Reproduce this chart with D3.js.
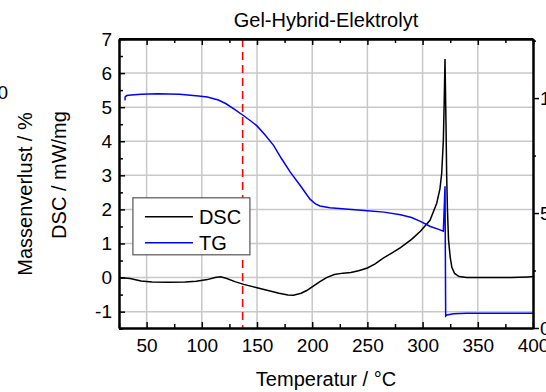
<!DOCTYPE html>
<html lang="de">
<head>
<meta charset="UTF-8">
<title>Gel-Hybrid-Elektrolyt</title>
<script src="https://d3js.org/d3.v7.min.js"></script>
<style>
  body { margin: 0; background: #fff; }
  svg text { font-family: "Liberation Sans", Arial, sans-serif; fill: #000; }
  .grid line { stroke: #c8c8c8; stroke-width: 1.5; }
  .axis path, .axis line { stroke: #000; }
  .axis path { stroke-width: 2; }
  .axis line { stroke-width: 1.5; }
</style>
</head>
<body>
<div id="chart"></div>
<script>
// Temperatur (°C) und DSC-Werte (mW/mg)
const dscTemp = [25, 35, 45, 55, 70, 85, 95, 105, 112, 117, 122, 130, 138, 150, 160, 170, 178, 183, 190, 195, 200, 207, 213, 220, 228, 235, 242, 250, 257, 264, 272, 280, 290, 298, 306.7, 312.8, 315.7, 317.3, 318.8, 319.6, 320.3, 321.2, 321.8, 322.5, 323.5, 325, 326.5, 329, 333, 340, 360, 380, 395, 400];
const dscVal  = [0.0, -0.03, -0.1, -0.13, -0.14, -0.13, -0.11, -0.06, 0.0, 0.02, -0.02, -0.12, -0.2, -0.3, -0.38, -0.46, -0.51, -0.52, -0.46, -0.38, -0.27, -0.12, 0.0, 0.09, 0.13, 0.15, 0.2, 0.28, 0.4, 0.56, 0.72, 0.88, 1.12, 1.36, 1.68, 2.18, 2.6, 3.06, 4.03, 5.2, 6.41, 4.5, 3.0, 2.0, 1.1, 0.6, 0.3, 0.12, 0.03, 0.0, 0.0, 0.0, 0.02, 0.03];

const tgTemp = [30.4, 30.6, 32, 36, 45, 60, 80, 97, 105, 115, 122, 130, 137, 145, 150, 157, 165, 172, 180, 189, 198, 203, 207, 216, 230, 250, 265, 280, 290, 298, 307, 314, 318.8, 320.3, 320.9, 322, 328, 340, 400];
const tgVal  = [5.2, 5.3, 5.34, 5.36, 5.38, 5.39, 5.38, 5.33, 5.3, 5.21, 5.1, 4.93, 4.77, 4.58, 4.45, 4.2, 3.88, 3.5, 3.1, 2.71, 2.3, 2.16, 2.1, 2.05, 2.01, 1.96, 1.92, 1.84, 1.76, 1.65, 1.5, 1.42, 1.36, 2.68, -1.13, -1.1, -1.06, -1.05, -1.05];

const xTicks = [50, 100, 150, 200, 250, 300, 350, 400];
const xMinor = [25, 75, 125, 175, 225, 275, 325, 375];
const yTicks = [-1, 0, 1, 2, 3, 4, 5, 6, 7];
const yMinor = [-1.5, -0.5, 0.5, 1.5, 2.5, 3.5, 4.5, 5.5, 6.5];
const rTicks = [0, 5, 10];
const rMinor = [2.5, 7.5, 12.5];
const markerTemp = 137;

const W = 546, H = 392;
const m = { left: 119, right: 13, top: 39, bottom: 64 };
const iw = W - m.left - m.right, ih = H - m.top - m.bottom;

const x = d3.scaleLinear().domain([25, 400]).range([0, iw]);
const y = d3.scaleLinear().domain([-1.48, 7]).range([ih, 0]);
const yr = d3.scaleLinear().domain([0, 12.57]).range([ih, 0]);

const svg = d3.select('#chart').append('svg')
  .attr('width', W).attr('height', H);

const g = svg.append('g').attr('transform', `translate(${m.left},${m.top})`);

// Gitter
g.append('g').attr('class', 'grid')
  .selectAll('line').data(xTicks.filter(d => d < 400)).enter().append('line')
  .attr('x1', d => x(d)).attr('x2', d => x(d)).attr('y1', 0).attr('y2', ih);
g.append('g').attr('class', 'grid')
  .selectAll('line').data(yTicks.filter(d => d < 7)).enter().append('line')
  .attr('y1', d => y(d)).attr('y2', d => y(d)).attr('x1', 0).attr('x2', iw);

// Marker-Linie
g.append('line')
  .attr('x1', x(markerTemp)).attr('x2', x(markerTemp))
  .attr('y1', 0).attr('y2', ih)
  .attr('stroke', '#ff0000').attr('stroke-width', 1.6)
  .attr('stroke-dasharray', '8,5');

g.append('clipPath').attr('id', 'clip')
  .append('rect').attr('width', iw).attr('height', ih);

const line = d3.line().x(d => x(d[0])).y(d => y(d[1]));
g.append('path')
  .datum(dscTemp.map((t, i) => [t, dscVal[i]]))
  .attr('clip-path', 'url(#clip)')
  .attr('fill', 'none').attr('stroke', '#000').attr('stroke-width', 1.5)
  .attr('d', line);
g.append('path')
  .datum(tgTemp.map((t, i) => [t, tgVal[i]]))
  .attr('clip-path', 'url(#clip)')
  .attr('fill', 'none').attr('stroke', '#0000ff').attr('stroke-width', 1.5)
  .attr('d', line);

const fs = '19px';
const plain = d => String(d);

// Achsen
const bottom = g.append('g').attr('class', 'axis').attr('transform', `translate(0,${ih})`)
  .call(d3.axisBottom(x).tickValues(xTicks).tickFormat(plain).tickSizeInner(-6).tickSizeOuter(0).tickPadding(11));
bottom.selectAll('text').style('font-size', fs);
g.append('g').attr('class', 'axis').attr('transform', `translate(0,${ih})`)
  .call(d3.axisBottom(x).tickValues(xMinor).tickSizeInner(-4).tickSizeOuter(0).tickFormat(''));

g.append('g').attr('class', 'axis')
  .call(d3.axisTop(x).tickValues(xTicks).tickSizeInner(-6).tickSizeOuter(0).tickFormat(''));
g.append('g').attr('class', 'axis')
  .call(d3.axisTop(x).tickValues(xMinor).tickSizeInner(-4).tickSizeOuter(0).tickFormat(''));

const left = g.append('g').attr('class', 'axis')
  .call(d3.axisLeft(y).tickValues(yTicks).tickFormat(plain).tickSizeInner(-6).tickSizeOuter(0).tickPadding(7));
left.selectAll('text').style('font-size', fs);
g.append('g').attr('class', 'axis')
  .call(d3.axisLeft(y).tickValues(yMinor).tickSizeInner(-4).tickSizeOuter(0).tickFormat(''));

const right = g.append('g').attr('class', 'axis').attr('transform', `translate(${iw},0)`)
  .call(d3.axisRight(yr).tickValues(rTicks).tickFormat(plain).tickSizeInner(6).tickSizeOuter(0).tickPadding(1));
right.selectAll('text').style('font-size', fs);
g.append('g').attr('class', 'axis').attr('transform', `translate(${iw},0)`)
  .call(d3.axisRight(yr).tickValues(rMinor).tickSizeInner(3).tickSizeOuter(0).tickFormat(''));

// Rahmen oben
g.append('line').attr('x1', 0).attr('x2', iw).attr('y1', 0).attr('y2', 0)
  .attr('stroke', '#000').attr('stroke-width', 2);

// Legende
const lg = g.append('g').attr('transform', `translate(${x(37.6)},${y(2.34)})`);
lg.append('rect').attr('width', 117).attr('height', 57)
  .attr('fill', '#fff').attr('stroke', '#555').attr('stroke-width', 1.2);
const items = [['DSC', '#000'], ['TG', '#0000ff']];
items.forEach((it, i) => {
  const yy = 19 + i * 26;
  lg.append('line').attr('x1', 12).attr('x2', 60).attr('y1', yy).attr('y2', yy)
    .attr('stroke', it[1]).attr('stroke-width', 1.5);
  lg.append('text').attr('x', 66).attr('y', yy).attr('dy', '0.36em')
    .style('font-size', '20px').text(it[0]);
});

// Beschriftungen
svg.append('text').attr('x', m.left + iw / 2).attr('y', 27)
  .attr('text-anchor', 'middle').style('font-size', '20px').text('Gel-Hybrid-Elektrolyt');
svg.append('text').attr('x', 326).attr('y', 386)
  .attr('text-anchor', 'middle').style('font-size', '20px').text('Temperatur / °C');
svg.append('text').attr('transform', 'translate(32,194) rotate(-90)')
  .attr('text-anchor', 'middle').style('font-size', '20px').text('Massenverlust / %');
svg.append('text').attr('transform', 'translate(66,175) rotate(-90)')
  .attr('text-anchor', 'middle').style('font-size', '20px').text('DSC / mW/mg');
// abgeschnittene Beschriftung der äußeren Achse
svg.append('text').attr('x', 8).attr('y', 92).attr('dy', '0.36em')
  .attr('text-anchor', 'end').style('font-size', fs).text('100');
</script>
</body>
</html>
